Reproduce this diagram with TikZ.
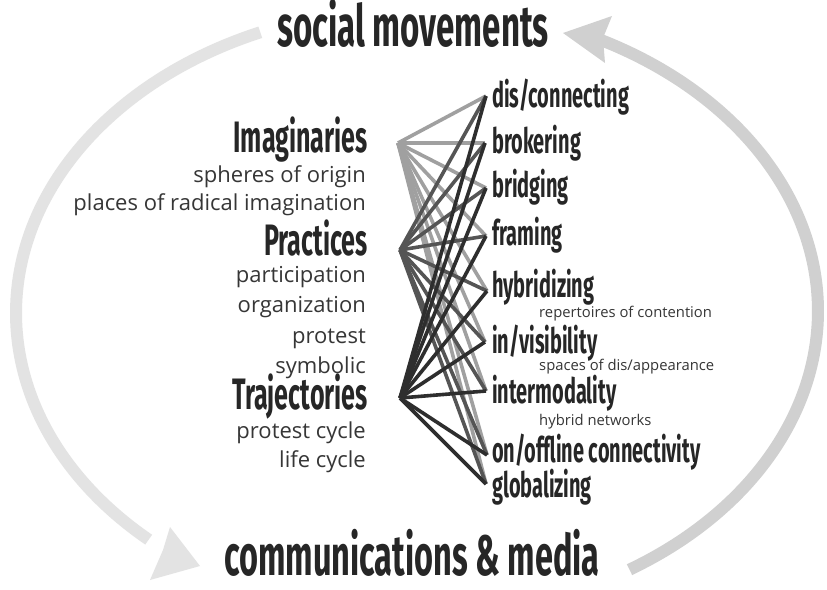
\documentclass[tikz,border=0pt]{standalone}
\usepackage{fontspec}
\setmainfont{Open Sans}
\newfontfamily\cond[FakeStretch=0.57]{Fira Sans}
\usetikzlibrary{calc}
\definecolor{headc}{HTML}{262626}
\definecolor{bodyc}{HTML}{363636}
\definecolor{arcL}{HTML}{E3E3E3}
\definecolor{arcR}{HTML}{D0D0D0}
\definecolor{linI}{HTML}{A0A0A0}
\definecolor{linP}{HTML}{555555}
\definecolor{linT}{HTML}{2E2E2E}
\tikzset{
  title/.style={font=\cond\bfseries\fontsize{58}{58}\selectfont, text=headc, inner sep=0pt},
  lhead/.style={anchor=base east, font=\cond\bfseries\fontsize{44}{44}\selectfont, text=headc, inner sep=0pt},
  lsub/.style={anchor=base east, font=\fontsize{22}{22}\selectfont, text=bodyc, inner sep=0pt},
  rhead/.style={anchor=base west, font=\cond\bfseries\fontsize{35}{35}\selectfont, text=headc, inner sep=0pt},
  rsub/.style={anchor=base west, font=\fontsize{14.8}{14.8}\selectfont, text=bodyc, inner sep=0pt},
  link/.style={line width=3.6pt},
}
\begin{document}
\begin{tikzpicture}[x=1pt,y=-1pt]
\useasboundingbox (0,0) rectangle (827,589);
\fill[white] (0,0) rectangle (827,589);
% circular arrows
\draw[arcL, line width=12pt] plot[domain=247:132, samples=80, smooth] ({417+401*cos(\x)},{313+305*sin(\x)});
\fill[arcL] (200,566) -- (170,527) -- (163,550) -- (150,580) -- cycle;
\draw[arcR, line width=12pt] plot[domain=58:-63, samples=80, smooth] ({417+401*cos(\x)},{311+305*sin(\x)});
\fill[arcR] (563,33) -- (612,16) -- (603,38) -- (605,63) -- cycle;
% titles
\node[title, anchor=base] (sm) at (413,46) {social movements};
\node[title, anchor=base, font=\cond\bfseries\fontsize{57}{57}\selectfont] (cm) at (412,575) {communications \& media};
% hubs and endpoints
\coordinate (hI) at (398,143);
\coordinate (hP) at (400,250);
\coordinate (hT) at (400,398);
\coordinate (e1) at (486,96);
\coordinate (e2) at (485,143);
\coordinate (e3) at (486,188);
\coordinate (e4) at (486,236);
\coordinate (e5) at (487,291);
\coordinate (e6) at (485,342);
\coordinate (e7) at (486,391);
\coordinate (e8) at (487,455);
\coordinate (e9) at (486,484);
\foreach \e in {1,...,9} \draw[link, linI] (hI) -- (e\e);
\foreach \e in {1,...,9} \draw[link, linP] (hP) -- (e\e);
\foreach \e in {1,...,9} \draw[link, linT] (hT) -- (e\e);
% left labels
\node[lhead] (im) at (368,152) {Imaginaries};
\node[lsub] (so) at (366,182) {spheres of origin};
\node[lsub] (pr) at (366,210) {places of radical imagination};
\node[lhead] (pc) at (368,255) {Practices};
\node[lsub] (pa) at (366,282) {participation};
\node[lsub] (or) at (366,312) {organization};
\node[lsub] (pt) at (366,343) {protest};
\node[lsub] (sy) at (366,373) {symbolic};
\node[lhead] (tr) at (368,409) {Trajectories};
\node[lsub] (pcy) at (366,438) {protest cycle};
\node[lsub] (lc) at (366,467) {life cycle};
% right labels
\node[rhead] (r1) at (492,107) {dis/connecting};
\node[rhead] (r2) at (492,153) {brokering};
\node[rhead] (r3) at (492,197) {bridging};
\node[rhead] (r4) at (492,245) {framing};
\node[rhead] (r5) at (492,297) {hybridizing};
\node[rsub] (s5) at (539,317) {repertoires of contention};
\node[rhead] (r6) at (492,353) {in/visibility};
\node[rsub] (s6) at (539,370) {spaces of dis/appearance};
\node[rhead] (r7) at (492,403) {intermodality};
\node[rsub] (s7) at (539,425) {hybrid networks};
\node[rhead] (r8) at (492,462) {on/offline connectivity};
\node[rhead] (r9) at (492,497) {globalizing};
\end{tikzpicture}
\end{document}
